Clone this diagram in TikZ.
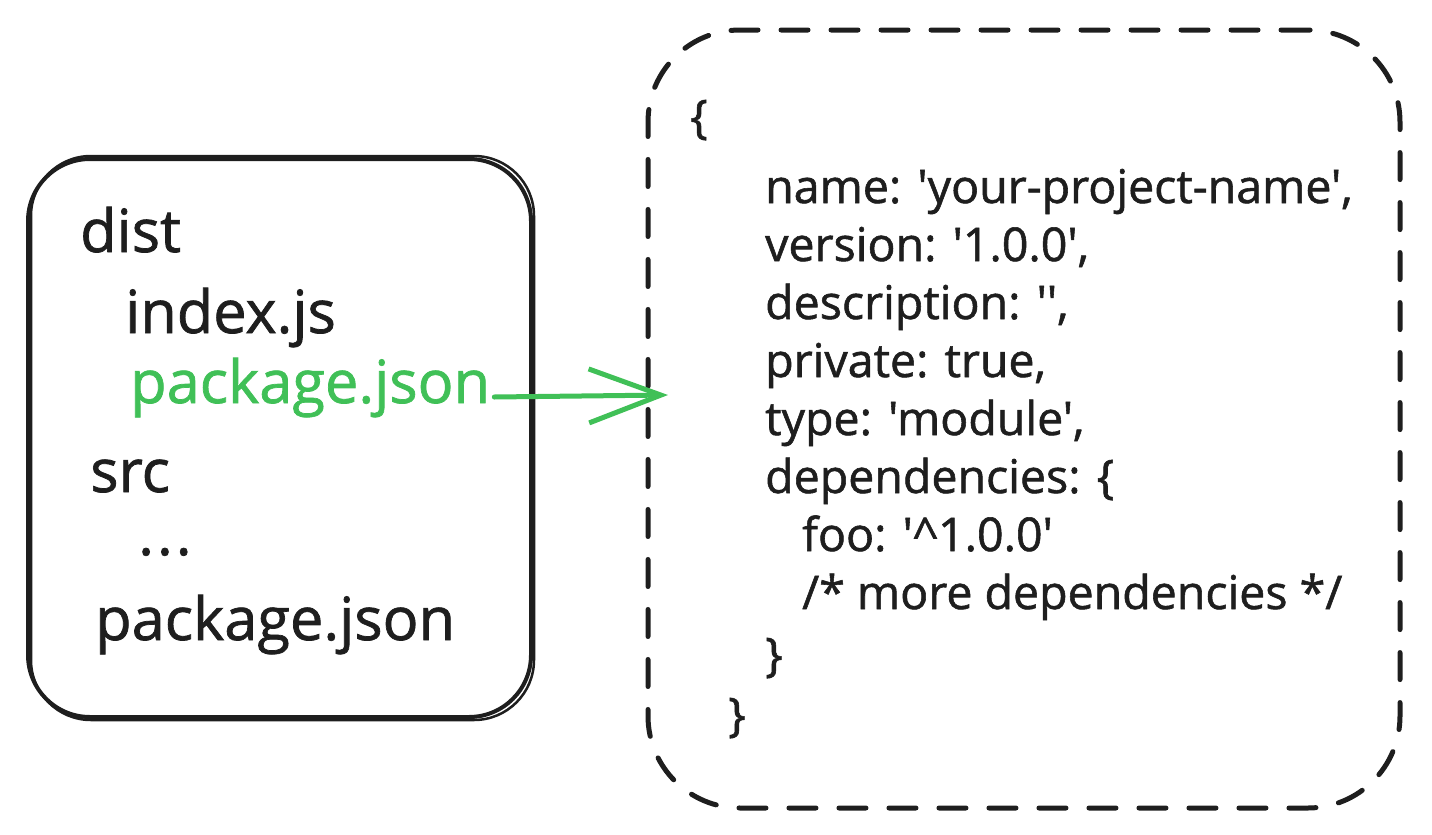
\documentclass[tikz,border=0pt]{standalone}
\usepackage{fontspec}
\setmainfont{Open Sans}[Ligatures=TeXOff, FakeBold=1.2]
\usetikzlibrary{arrows.meta}
\definecolor{ink}{HTML}{1E1E1E}
\definecolor{grn}{HTML}{40C057}
\begin{document}
\begin{tikzpicture}[x=1pt,y=-1pt,
  filebox/.style={draw=ink, line width=4pt, rounded corners=62pt, minimum width=503pt, minimum height=558pt, inner sep=0pt},
  jsonbox/.style={draw=ink, line width=5pt, line cap=round, dash pattern=on 27pt off 23pt, rounded corners=92pt, minimum width=752pt, minimum height=778pt, inner sep=0pt},
  bigtxt/.style={anchor=base west, inner sep=0pt, text=ink, font=\fontsize{59.5}{62}\selectfont},
  codetxt/.style={anchor=base west, inner sep=0pt, text=ink, font=\fontsize{46.5}{50}\selectfont},
  link/.style={draw=grn, line width=5pt, line cap=round, -{Straight Barb[length=72pt,width=54pt,line width=5pt]}}
]
\useasboundingbox (0,0) rectangle (1432,835);
% left box (double hand-drawn stroke)
\node[filebox] (files) at (279.5,438) {};
\draw[ink, line width=2.5pt, rounded corners=60pt] (31,156) rectangle (534,720);
% right dashed box
\node[jsonbox] (json) at (1024,419) {};
% left texts
\node[bigtxt] (dist) at (80,252) {dist};
\node[bigtxt] (idx) at (125,333) {index.js};
\node[bigtxt, text=grn] (pkg) at (130,403) {package.json};
\node[bigtxt] (src) at (90,492) {src};
\node[bigtxt] (dots) at (138,555) {.\kern3pt.\kern3pt.};
\node[bigtxt] (pkgroot) at (95,640) {package.json};
% right texts
\node[codetxt] (ob) at (690,133) {\{};
\node[codetxt] (l1) at (765,203) {name: 'your-project-name',};
\node[codetxt] (l2) at (765,261) {version: '1.0.0',};
\node[codetxt] (l3) at (765,319) {description: '',};
\node[codetxt] (l4) at (765,377) {private: true,};
\node[codetxt] (l5) at (765,435) {type: 'module',};
\node[codetxt] (l6) at (765,493) {dependencies: \{};
\node[codetxt] (l7) at (802,551) {foo: '\textasciicircum 1.0.0'};
\node[codetxt] (l8) at (802,609) {/* more dependencies */};
\node[codetxt] (l9) at (765,671) {\}};
\node[codetxt] (cb) at (728,731) {\}};
% arrow
\coordinate (tip) at (668,395);
\draw[link] ([xshift=4pt,yshift=6pt]pkg.base east) -- (tip);
\end{tikzpicture}
\end{document}
